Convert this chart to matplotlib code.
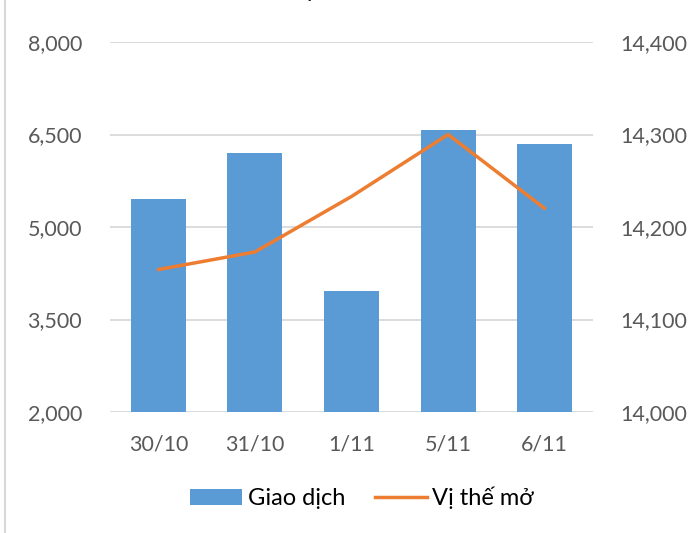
import matplotlib
matplotlib.use("Agg")
import matplotlib.pyplot as plt
from matplotlib.lines import Line2D
from matplotlib.patches import Patch

categories = ["30/10", "31/10", "1/11", "5/11", "6/11"]
giao_dich = [5450, 6200, 3960, 6580, 6350]
vi_the_mo = [14154, 14173, 14233, 14300, 14220]
left_ticks = [2000, 3500, 5000, 6500, 8000]
right_ticks = [14000, 14100, 14200, 14300, 14400]

plt.rcParams['font.family'] = ['Lato', 'DejaVu Sans']
BAR = "#5B9BD5"
LINE = "#ED7D31"
GRID = "#D9D9D9"
TXT = "#595959"

fig = plt.figure(figsize=(6.91, 5.33), dpi=100)
ax = fig.add_axes([110/691, 1-412/533, (593-110)/691, (412-42)/533])
x = list(range(len(categories)))
ax.bar(x, giao_dich, width=0.57, color=BAR, zorder=2)
ax.set_xlim(-0.5, 4.5)
ax.set_ylim(2000, 8000)
ax.set_yticks(left_ticks)
ax.set_yticklabels([f"{v:,}" for v in left_ticks])
ax.set_xticks(x)
ax.set_xticklabels(categories)
ax.grid(axis='y', color=GRID, linewidth=1.3, zorder=0)
for s in ax.spines.values():
    s.set_visible(False)
ax.tick_params(axis='both', length=0, labelsize=15.5, labelcolor=TXT)
ax.tick_params(axis='y', pad=20)
ax.tick_params(axis='x', pad=16)

ax2 = ax.twinx()
ax2.plot(x, vi_the_mo, color=LINE, linewidth=2.5, zorder=3, solid_capstyle='round')
ax2.set_ylim(14000, 14400)
ax2.set_yticks(right_ticks)
ax2.set_yticklabels([f"{v:,}" for v in right_ticks])
for s in ax2.spines.values():
    s.set_visible(False)
ax2.tick_params(axis='y', length=0, labelsize=15.5, labelcolor=TXT, pad=20)

handles = [Patch(facecolor=BAR, edgecolor='none'),
           Line2D([0], [0], color=LINE, linewidth=2.5)]
fig.legend(handles, ["Giao dịch", "Vị thế mở"], loc='center', bbox_to_anchor=(362/691, 1-498/533),
           ncol=2, frameon=False, fontsize=17, handlelength=2.2, handleheight=0.65,
           handletextpad=0.25, columnspacing=1.25, labelcolor='black')

fig.text(372/691, 1.0 + 9/533, "Giao dịch HĐTL VN30F1M", ha='center', va='center',
         fontsize=15, fontweight='bold', color='black')
fig.add_artist(Line2D([4.5/691, 4.5/691], [0, 1], transform=fig.transFigure, color=GRID, linewidth=1.5))

fig.savefig("out.png", dpi=100)
